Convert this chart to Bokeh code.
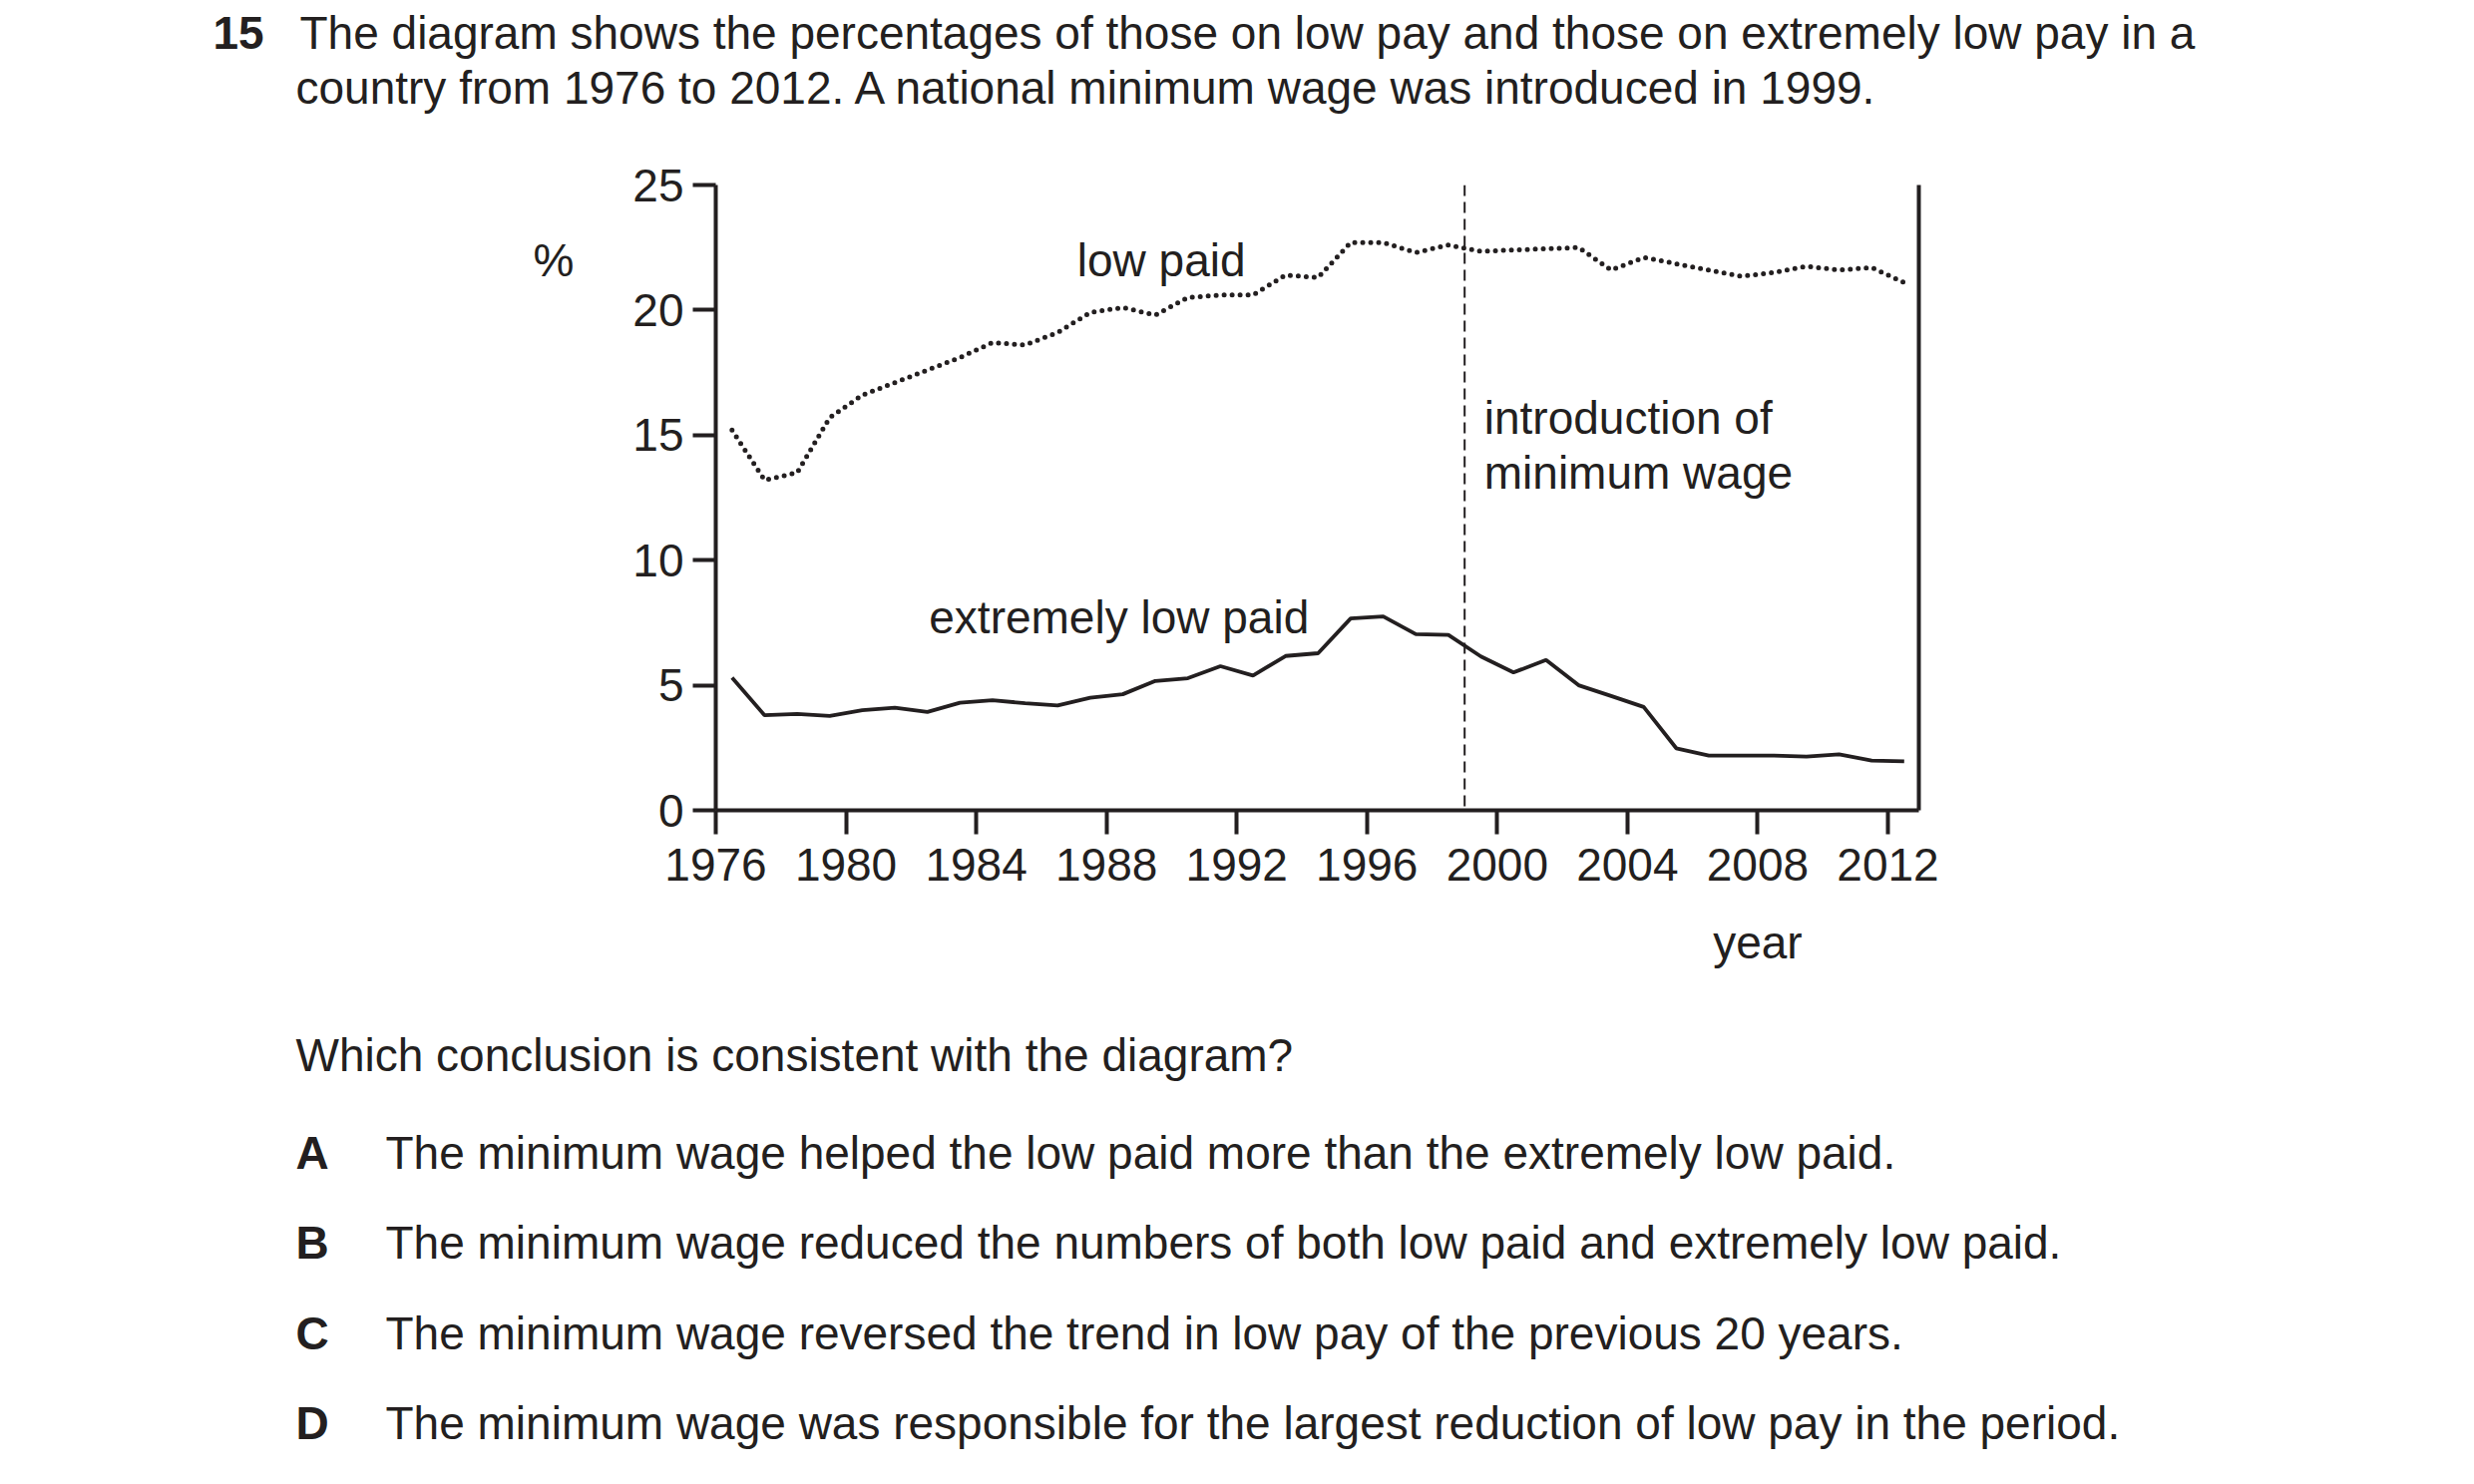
from bokeh.plotting import figure
from bokeh.layouts import column
from bokeh.models import LinearAxis, FixedTicker, Span, Label, Range1d, ColumnDataSource
from bokeh.core.properties import value
from bokeh.embed import file_html
from bokeh.resources import INLINE

years = list(range(1976, 2013))
low_paid = [15.2, 13.2, 13.5, 15.7, 16.6, 17.1, 17.6, 18.1, 18.7, 18.6, 19.1, 19.9,
            20.1, 19.8, 20.5, 20.6, 20.6, 21.4, 21.3, 22.7, 22.7, 22.3, 22.6, 22.35,
            22.4, 22.45, 22.5, 21.6, 22.1, 21.85, 21.6, 21.35, 21.5, 21.75, 21.6, 21.7, 21.1]
extremely_low = [5.3, 3.8, 3.85, 3.77, 4.0, 4.1, 3.93, 4.3, 4.4, 4.28, 4.19, 4.5,
                 4.64, 5.17, 5.28, 5.76, 5.39, 6.17, 6.28, 7.67, 7.75, 7.04, 7.01, 6.15,
                 5.51, 6.01, 5.0, 4.57, 4.13, 2.48, 2.19, 2.19, 2.19, 2.15, 2.24, 1.99, 1.96]
x_ticks = list(range(1976, 2013, 4))
y_ticks = [0, 5, 10, 15, 20, 25]
wage_year = 1999

number = "15"
title_lines = ["The diagram shows the percentages of those on low pay and those on extremely low pay in a",
               "country from 1976 to 2012. A national minimum wage was introduced in 1999."]
question = "Which conclusion is consistent with the diagram?"
letters = ["A", "B", "C", "D"]
answers = ["The minimum wage helped the low paid more than the extremely low paid.",
           "The minimum wage reduced the numbers of both low paid and extremely low paid.",
           "The minimum wage reversed the trend in low pay of the previous 20 years.",
           "The minimum wage was responsible for the largest reduction of low pay in the period."]

INK = "#231f20"
FONT = "Liberation Sans"
SIZE = "46px"
W = 2464


def text_panel(height, xs, ys, texts, styles):
    # a plain figure used as a page area, y measured downwards in pixels
    f = figure(width=W, height=height, output_backend="svg", toolbar_location=None,
               x_range=Range1d(0, W), y_range=Range1d(height, 0),
               x_axis_type=None, y_axis_type=None, min_border=0, frame_align=False)
    f.grid.visible = False
    f.outline_line_color = None
    src = ColumnDataSource(dict(x=xs, y=ys, t=texts, s=styles))
    f.text("x", "y", text="t", source=src, text_font=value(FONT), text_font_style="s",
           text_font_size=SIZE, text_color=INK, text_baseline="alphabetic")
    return f


header = text_panel(158, [213, 300, 296], [32, 32, 87],
                    [number] + title_lines, ["bold", "normal", "normal"])

fx, fy = [296], [57]
ft, fs = [question], ["normal"]
for i, (l, a) in enumerate(zip(letters, answers)):
    by = 155 + i * 90.5
    fx += [296, 386]
    fy += [by, by]
    ft += [l, a]
    fs += ["bold", "normal"]
footer = text_panel(480, fx, fy, ft, fs)

# chart
H = 842
x0, x1 = 1976, 2012.95
p = figure(width=W, height=H, output_backend="svg", toolbar_location=None,
           x_range=Range1d(x0, x1), y_range=Range1d(0, 25),
           x_axis_type=None, y_axis_type=None,
           min_border_left=717, min_border_right=541,
           min_border_top=27, min_border_bottom=188, frame_align=False)
p.grid.visible = False
p.outline_line_color = None


def style(ax, standoff, tick_out):
    ax.axis_line_color = INK
    ax.axis_line_width = 4
    ax.major_tick_line_color = INK
    ax.major_tick_line_width = 4
    ax.minor_tick_line_color = None
    ax.major_label_text_font = FONT
    ax.major_label_text_font_size = SIZE
    ax.major_label_text_color = INK
    ax.major_label_standoff = standoff
    ax.major_tick_in = 0
    ax.major_tick_out = tick_out


xa = LinearAxis(ticker=FixedTicker(ticks=x_ticks))
style(xa, 14, 24)
p.add_layout(xa, "below")

ya = LinearAxis(ticker=FixedTicker(ticks=y_ticks))
style(ya, 9, 23)
p.add_layout(ya, "left")

# axis names sit off-centre in the original, so they ride on single-tick axes
year_ax = LinearAxis(ticker=FixedTicker(ticks=[2008]), major_label_overrides={2008: "year"})
style(year_ax, 33, 0)
year_ax.axis_line_color = None
year_ax.major_tick_line_color = None
p.add_layout(year_ax, "below")

pct_ax = LinearAxis(ticker=FixedTicker(ticks=[22.0]), major_label_overrides={22.0: "%"})
style(pct_ax, 56, 0)
pct_ax.axis_line_color = None
pct_ax.major_tick_line_color = None
p.add_layout(pct_ax, "left")

ra = LinearAxis(ticker=FixedTicker(ticks=[]))
ra.axis_line_color = INK
ra.axis_line_width = 4
ra.major_tick_line_color = None
ra.minor_tick_line_color = None
ra.major_label_text_font_size = "0px"
p.add_layout(ra, "right")

mid = [y + 0.5 for y in years]
p.line(mid, low_paid, line_color=INK, line_width=5, line_dash="0 8", line_cap="round")
p.line(mid, extremely_low, line_color=INK, line_width=3.8)

p.add_layout(Span(location=wage_year, dimension="height", line_color=INK,
                  line_width=2, line_dash="11 6"))

lab = dict(text_font=FONT, text_font_size=SIZE, text_color=INK, text_baseline="alphabetic")
p.add_layout(Label(x=1987.1, y=22.0, text="low paid", **lab))
p.add_layout(Label(x=1999.6, y=15.7, text="introduction of", **lab))
p.add_layout(Label(x=1999.6, y=13.5, text="minimum wage", **lab))
p.add_layout(Label(x=1982.55, y=7.7, text="extremely low paid", **lab))

page = column(header, p, footer, spacing=0)
open("out.html", "w").write(file_html(page, INLINE))
